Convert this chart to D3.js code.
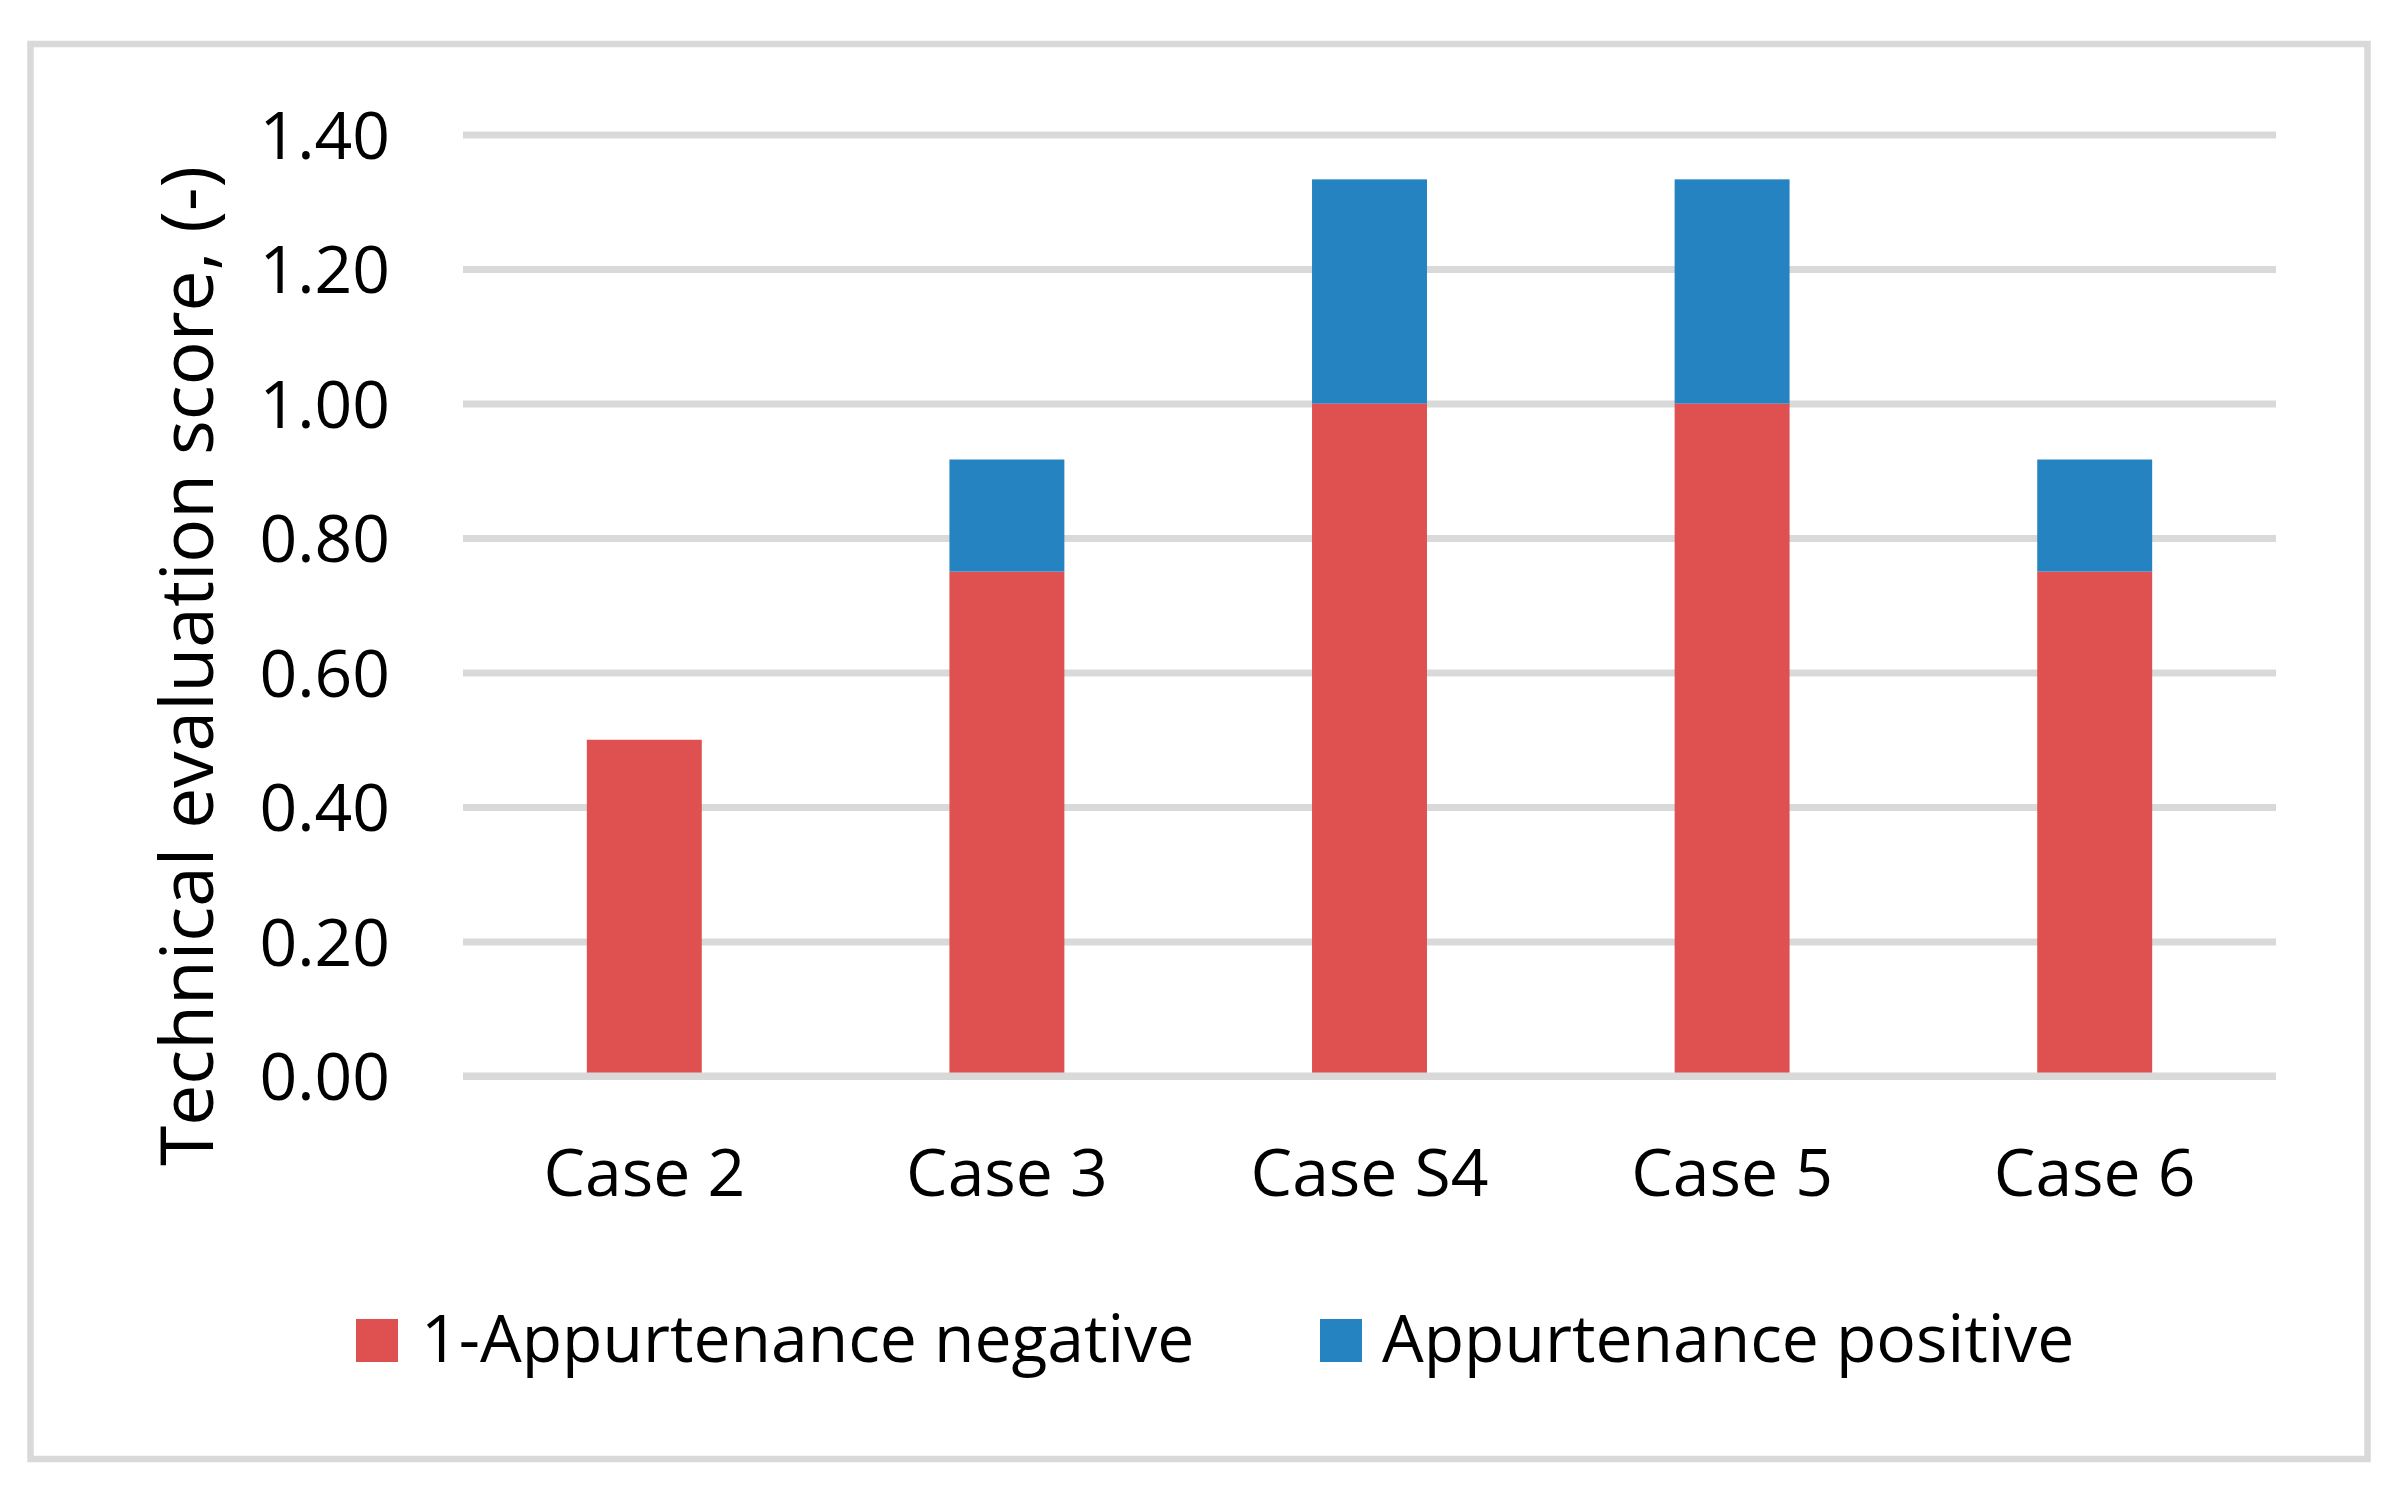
<!DOCTYPE html>
<html>
<head>
<meta charset="utf-8">
<script src="https://cdn.jsdelivr.net/npm/d3@7"></script>
<style>
  html, body { margin: 0; padding: 0; background: #ffffff; }
  svg { display: block; }
  text { font-family: "Open Sans", "Noto Sans", sans-serif; fill: #000; }
</style>
</head>
<body>
<svg id="chart" width="2390" height="1486"></svg>
<script>
// ---- data ----
const categories = ["Case 2", "Case 3", "Case S4", "Case 5", "Case 6"];
const negativeValues = [0.5, 0.75, 1.0, 1.0, 0.75];          // 1-Appurtenance negative
const positiveValues = [0.0, 0.1667, 0.3333, 0.3333, 0.1667]; // Appurtenance positive
const seriesNames = ["1-Appurtenance negative", "Appurtenance positive"];
const yTicks = [0, 0.2, 0.4, 0.6, 0.8, 1.0, 1.2, 1.4];
const yLabel = "Technical evaluation score, (-)";

// ---- layout ----
const W = 2390, H = 1486;
const colors = ["#DE5150", "#2683C2"];
const gridColor = "#D9D9D9";
const FONT = '"Open Sans", "Noto Sans", sans-serif';
const plot = { left: 463, right: 2276, top: 134.5, bottom: 1076 };

const svg = d3.select("#chart");
svg.append("rect").attr("width", W).attr("height", H).attr("fill", "#fff");

// outer border
svg.append("rect")
  .attr("x", 30.5).attr("y", 44).attr("width", 2337).attr("height", 1415)
  .attr("fill", "none").attr("stroke", gridColor).attr("stroke-width", 6.5);

const x = d3.scaleBand().domain(categories)
  .range([plot.left, plot.right]).paddingInner(0.683).paddingOuter(0.3415);
const y = d3.scaleLinear().domain([0, 1.4]).range([plot.bottom, plot.top]);

// gridlines via axis
const yAxisGrid = d3.axisLeft(y).tickValues(yTicks)
  .tickSize(-(plot.right - plot.left)).tickFormat("");
const gGrid = svg.append("g").attr("transform", `translate(${plot.left},0)`).call(yAxisGrid);
gGrid.select(".domain").remove();
gGrid.selectAll(".tick line").attr("stroke", gridColor).attr("stroke-width", 7);

// stacked data
const rows = categories.map((c, i) => ({ cat: c, neg: negativeValues[i], pos: positiveValues[i] }));
const stack = d3.stack().keys(["neg", "pos"])(rows);

svg.append("g").selectAll("g").data(stack).join("g")
  .attr("fill", (d, i) => colors[i])
  .selectAll("rect").data(d => d).join("rect")
  .attr("x", d => x(d.data.cat))
  .attr("width", x.bandwidth())
  .attr("y", d => y(d[1]))
  .attr("height", d => Math.max(0, y(d[0]) - y(d[1])));

// baseline axis line over bars
svg.append("line")
  .attr("x1", plot.left).attr("x2", plot.right)
  .attr("y1", y(0)).attr("y2", y(0))
  .attr("stroke", gridColor).attr("stroke-width", 7);

// y tick labels
const yAxis = d3.axisLeft(y).tickValues(yTicks).tickSize(0).tickPadding(0)
  .tickFormat(d3.format(".2f"));
const gY = svg.append("g").attr("transform", `translate(390,0)`).call(yAxis);
gY.select(".domain").remove();
gY.selectAll(".tick text")
  .attr("font-size", 66).attr("dy", "0.36em")
  .style("font-family", FONT).attr("fill", "#000");

// x tick labels
const xAxis = d3.axisBottom(x).tickSize(0).tickPadding(0);
const gX = svg.append("g").attr("transform", `translate(0,1196)`).call(xAxis);
gX.select(".domain").remove();
gX.selectAll(".tick text")
  .attr("font-size", 66).attr("dy", 0).attr("y", 0)
  .style("font-family", FONT).attr("fill", "#000");

// y axis title
svg.append("text")
  .attr("transform", "translate(213,666) rotate(-90)")
  .attr("text-anchor", "middle")
  .attr("font-size", 73)
  .text(yLabel);

// legend
const legendX = [356, 1320];
const legendTextX = [421, 1382];
const lg = svg.append("g");
seriesNames.forEach((name, i) => {
  lg.append("rect").attr("x", legendX[i]).attr("y", 1319)
    .attr("width", 42).attr("height", 43).attr("fill", colors[i]);
  lg.append("text").attr("x", legendTextX[i]).attr("y", 1362)
    .attr("font-size", 66).text(name);
});
</script>
</body>
</html>
